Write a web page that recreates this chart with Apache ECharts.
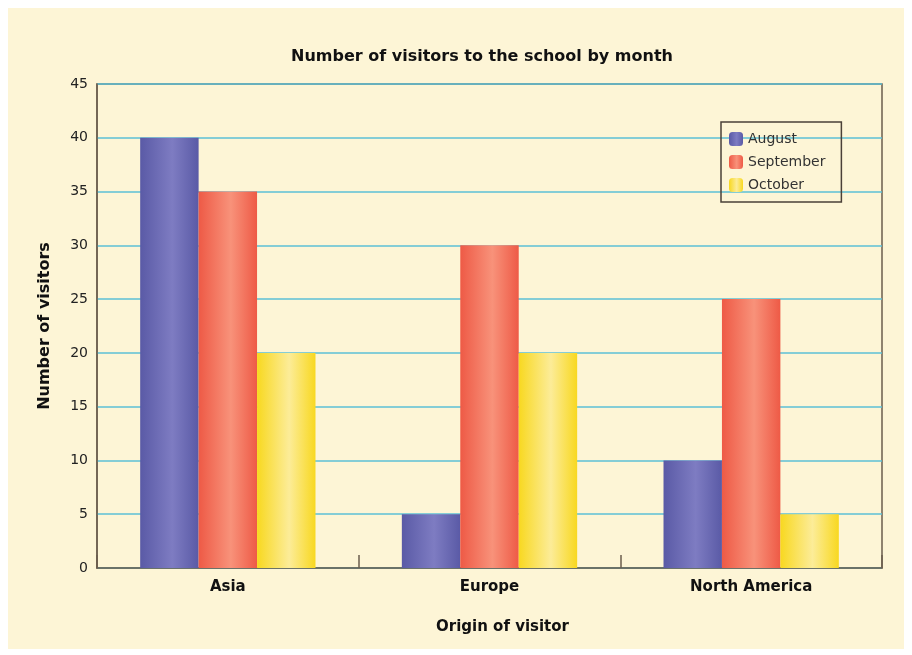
<!DOCTYPE html>
<html>
<head>
<meta charset="utf-8">
<script src="https://cdn.jsdelivr.net/npm/echarts@6/dist/echarts.min.js"></script>
<style>
  html, body { margin: 0; padding: 0; background: #ffffff; }
  #chart { position: absolute; left: 8px; top: 8px; width: 896px; height: 641px; }
</style>
</head>
<body>
<div id="chart"></div>
<script>
// data
var categories = ['Asia', 'Europe', 'North America'];
var august = [40, 5, 10];
var september = [35, 30, 25];
var october = [20, 20, 5];

var fontFamily = '"DejaVu Sans", sans-serif';

function grad(dark, light) {
    return {
        type: 'linear', x: 0, y: 0, x2: 1, y2: 0,
        colorStops: [
            { offset: 0, color: dark },
            { offset: 0.55, color: light },
            { offset: 1, color: dark }
        ]
    };
}

var chart = echarts.init(document.getElementById('chart'));
chart.setOption({
    backgroundColor: '#fdf5d6',
    animation: false,
    textStyle: { fontFamily: fontFamily },
    title: {
        text: 'Number of visitors to the school by month',
        left: 278,
        top: 36,
        textStyle: { fontSize: 16, fontWeight: 'bold', color: '#111', fontFamily: fontFamily }
    },
    legend: {
        orient: 'vertical',
        left: 713,
        top: 114,
        padding: [10, 16, 10, 8],
        itemWidth: 14,
        itemHeight: 14,
        itemGap: 9,
        borderColor: '#4a4038',
        borderWidth: 1.5,
        textStyle: { fontSize: 14, color: '#333', fontFamily: fontFamily },
        data: ['August', 'September', 'October']
    },
    grid: {
        left: 89,
        top: 76,
        right: 22,
        bottom: 81,
        show: true,
        borderColor: '#6b5e4e',
        borderWidth: 1.5
    },
    xAxis: {
        type: 'category',
        data: categories,
        name: 'Origin of visitor',
        nameLocation: 'middle',
        nameGap: 52,
        nameTextStyle: { fontSize: 15, fontWeight: 'bold', color: '#111', padding: [0, 0, 0, 26] },
        axisLine: { lineStyle: { color: '#6b5e4e', width: 1.5 } },
        axisTick: { show: true, inside: true, length: 13, lineStyle: { color: '#6b5e4e', width: 1.5 } },
        axisLabel: { fontSize: 15, fontWeight: 'bold', color: '#111', margin: 12 }
    },
    yAxis: {
        type: 'value',
        min: 0,
        max: 45,
        interval: 5,
        name: 'Number of visitors',
        nameLocation: 'middle',
        nameGap: 44,
        nameTextStyle: { fontSize: 16, fontWeight: 'bold', color: '#111' },
        axisLine: { show: true, lineStyle: { color: '#6b5e4e', width: 1.5 } },
        axisTick: { show: false },
        axisLabel: { fontSize: 14, color: '#222', margin: 9 },
        splitLine: { lineStyle: { color: '#5bbfd6', width: 1.5 } }
    },
    series: [
        {
            name: 'August', type: 'bar', data: august,
            barGap: '0%', barCategoryGap: '33%',
            itemStyle: { color: grad('#5a5aa6', '#7e7cc2') }
        },
        {
            name: 'September', type: 'bar', data: september,
            itemStyle: { color: grad('#ee5a46', '#f8927a') }
        },
        {
            name: 'October', type: 'bar', data: october,
            itemStyle: { color: grad('#f8d820', '#fcec98') }
        }
    ]
});
window.addEventListener('resize', chart.resize);
</script>
</body>
</html>
